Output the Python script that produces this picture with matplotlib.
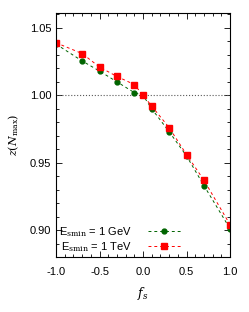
import matplotlib.pyplot as plt
from matplotlib.ticker import MultipleLocator

plt.rcParams['font.family'] = ['Liberation Sans', 'DejaVu Sans']
plt.rcParams['mathtext.fontset'] = 'dejavuserif'

fs = [-1.0, -0.7, -0.5, -0.3, -0.1, 0.0, 0.1, 0.3, 0.5, 0.7, 1.0]
z_gev = [1.038, 1.0255, 1.018, 1.010, 1.002, 1.000, 0.990, 0.973, 0.955, 0.933, 0.901]
z_tev = [1.039, 1.031, 1.021, 1.014, 1.008, 1.000, 0.992, 0.976, 0.956, 0.937, 0.904]
err_gev = [0.001, 0.001, 0.001, 0.001, 0.001, 0.0, 0.001, 0.001, 0.001, 0.001, 0.0015]
err_tev = [0.001, 0.001, 0.001, 0.001, 0.001, 0.0, 0.001, 0.001, 0.001, 0.001, 0.0015]

fig = plt.figure(figsize=(2.49, 3.12), dpi=100)
ax = fig.add_axes([0.225, 0.176, 0.699, 0.782])

ax.axhline(1.0, color='0.35', linestyle=':', linewidth=0.8)

# error bars drawn apart so that the legend shows only line and marker
ax.errorbar(fs, z_gev, yerr=err_gev, fmt='none', ecolor='#006400', elinewidth=0.6)
ax.errorbar(fs, z_tev, yerr=err_tev, fmt='none', ecolor='#ff0000', elinewidth=0.6)
ax.plot(fs, z_gev, color='#006400', marker='o', markersize=3.5,
        linestyle=(0, (3, 3)), linewidth=0.7, label=r'E$_{\rm smin}$ = 1 GeV')
ax.plot(fs, z_tev, color='#ff0000', marker='s', markersize=4,
        linestyle=(0, (3, 3)), linewidth=0.7, label=r'E$_{\rm smin}$ = 1 TeV')

ax.set_xlim(-1.0, 1.0)
ax.set_ylim(0.88, 1.061)
ax.xaxis.set_major_locator(MultipleLocator(0.5))
ax.xaxis.set_minor_locator(MultipleLocator(0.1))
ax.yaxis.set_major_locator(MultipleLocator(0.05))
ax.yaxis.set_minor_locator(MultipleLocator(0.01))
ax.xaxis.set_major_formatter(plt.FormatStrFormatter('%.1f'))
ax.yaxis.set_major_formatter(plt.FormatStrFormatter('%.2f'))
ax.tick_params(which='both', direction='in', top=True, right=True, labelsize=8)
ax.tick_params(which='major', length=4, width=0.6)
ax.tick_params(which='minor', length=2.5, width=0.6)
ax.tick_params(axis='x', which='major', pad=7)
for s in ax.spines.values():
    s.set_linewidth(0.8)

ax.set_xlabel(r'$f_s$', fontsize=9, labelpad=6)
ax.set_ylabel(r'$z(N_{\rm max})$', fontsize=8, labelpad=6)

ax.legend(loc='lower left', frameon=False, markerfirst=False, fontsize=8,
          handlelength=3, borderpad=0.2, labelspacing=0.1, handletextpad=1.4,
          borderaxespad=0.1)

fig.savefig('out.png', dpi=100)
